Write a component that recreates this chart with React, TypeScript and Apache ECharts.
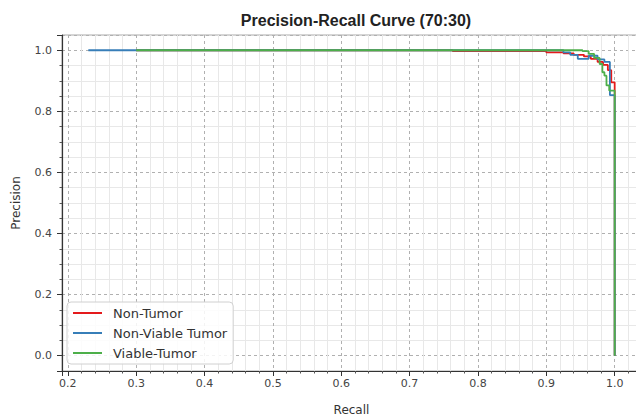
import React, { useEffect, useRef } from "react";
import * as echarts from "echarts";

const titleText = "Precision-Recall Curve (70:30)";
const seriesNames = ["Non-Tumor", "Non-Viable Tumor", "Viable-Tumor"];
const seriesColors = ["#e41a1c", "#377eb8", "#4daf4a"];

const nonTumorRecall = [0.3, 0.763, 0.9, 0.925, 0.94, 0.955, 0.965, 0.975, 0.983, 0.99, 0.995, 0.998, 1.0, 1.0];
const nonTumorPrecision = [1.0, 1.0, 0.997, 0.993, 0.99, 0.985, 0.98, 0.972, 0.962, 0.952, 0.935, 0.895, 0.895, 0.0];

const nonViableRecall = [0.23, 0.925, 0.935, 0.946, 0.955, 0.962, 0.975, 0.985, 0.993, 1.0, 1.0];
const nonViablePrecision = [1.0, 1.0, 0.993, 0.985, 0.972, 0.972, 0.982, 0.97, 0.962, 0.853, 0.0];

const viableRecall = [0.3, 0.953, 0.962, 0.97, 0.978, 0.982, 0.985, 0.988, 0.992, 0.997, 1.0, 1.0];
const viablePrecision = [1.0, 1.0, 0.997, 0.988, 0.975, 0.955, 0.928, 0.917, 0.885, 0.868, 0.868, 0.0];

const xMin = 0.1915;
const xMax = 1.0385;
const yMin = -0.05;
const yMax = 1.05;

const zip = (a: number[], b: number[]) => a.map((v, i) => [v, b[i]]);

export default function App() {
  const ref = useRef<HTMLDivElement>(null);
  useEffect(() => {
    if (!ref.current) return;
    const chart = echarts.init(ref.current, undefined, { renderer: "svg" });
    const font = "DejaVu Sans";
    const data = [
      zip(nonTumorRecall, nonTumorPrecision),
      zip(nonViableRecall, nonViablePrecision),
      zip(viableRecall, viablePrecision),
    ];
    chart.setOption({
      animation: false,
      backgroundColor: "#ffffff",
      title: {
        text: titleText,
        left: 351,
        textAlign: "center",
        top: 7,
        textStyle: {
          fontFamily: "Liberation Sans",
          fontWeight: "bold",
          fontSize: 16,
          color: "#222",
        },
      },
      grid: {
        left: 62,
        top: 35,
        width: 579,
        height: 336,
        outerBoundsMode: "none",
        containLabel: false,
        show: true,
        borderColor: "#aaaaaa",
        borderWidth: 1,
        backgroundColor: "transparent",
      },
      legend: {
        orient: "vertical",
        left: 67,
        top: 302,
        padding: [3, 6, 3, 6],
        backgroundColor: "rgba(255,255,255,0.85)",
        borderColor: "#d0d0d0",
        borderWidth: 1,
        borderRadius: 4,
        icon: "rect",
        itemWidth: 29,
        itemHeight: 2,
        itemGap: 4,
        data: seriesNames,
        textStyle: {
          fontFamily: font,
          fontSize: 13,
          color: "#333",
          lineHeight: 16,
          padding: [0, 0, 0, 6],
        },
      },
      xAxis: {
        type: "value",
        min: xMin,
        max: xMax,
        splitNumber: 8,
        name: "Recall",
        nameLocation: "middle",
        nameGap: 33,
        nameTextStyle: { fontFamily: font, fontSize: 12, color: "#333" },
        axisLine: { show: true, onZero: false, lineStyle: { color: "#333", width: 1.2 } },
        axisTick: { show: true, length: 5, lineStyle: { color: "#333" } },
        minorTick: { show: true, splitNumber: 5, length: 2.5, lineStyle: { color: "#555" } },
        axisLabel: {
          fontFamily: font,
          fontSize: 11,
          color: "#444",
          margin: 7,
          showMinLabel: false,
          showMaxLabel: false,
          formatter: (v: number) => v.toFixed(1),
        },
        splitLine: { show: true, lineStyle: { color: "#b0b0b0", type: [3, 3], width: 1 } },
        minorSplitLine: { show: true, lineStyle: { color: "#e8e8e8", width: 1 } },
      },
      yAxis: {
        type: "value",
        min: yMin,
        max: yMax,
        splitNumber: 5,
        name: "Precision",
        nameLocation: "middle",
        nameGap: 40,
        nameTextStyle: { fontFamily: font, fontSize: 12, color: "#333" },
        axisLine: { show: true, onZero: false, lineStyle: { color: "#333", width: 1.2 } },
        axisTick: { show: true, length: 5, lineStyle: { color: "#333" } },
        minorTick: { show: true, splitNumber: 4, length: 2.5, lineStyle: { color: "#555" } },
        axisLabel: {
          fontFamily: font,
          fontSize: 11,
          color: "#444",
          margin: 10,
          showMinLabel: false,
          showMaxLabel: false,
          formatter: (v: number) => v.toFixed(1),
        },
        splitLine: { show: true, lineStyle: { color: "#b0b0b0", type: [3, 3], width: 1 } },
        minorSplitLine: { show: true, lineStyle: { color: "#e8e8e8", width: 1 } },
      },
      series: seriesNames.map((name, i) => ({
        name,
        type: "line",
        step: "start",
        symbol: "none",
        data: data[i],
        color: seriesColors[i],
        lineStyle: { color: seriesColors[i], width: 1.8 },
        z: 3 + i,
      })),
    });
    return () => chart.dispose();
  }, []);
  return <div ref={ref} style={{ width: 636, height: 420, position: "absolute", left: 0, top: 0 }} />;
}
